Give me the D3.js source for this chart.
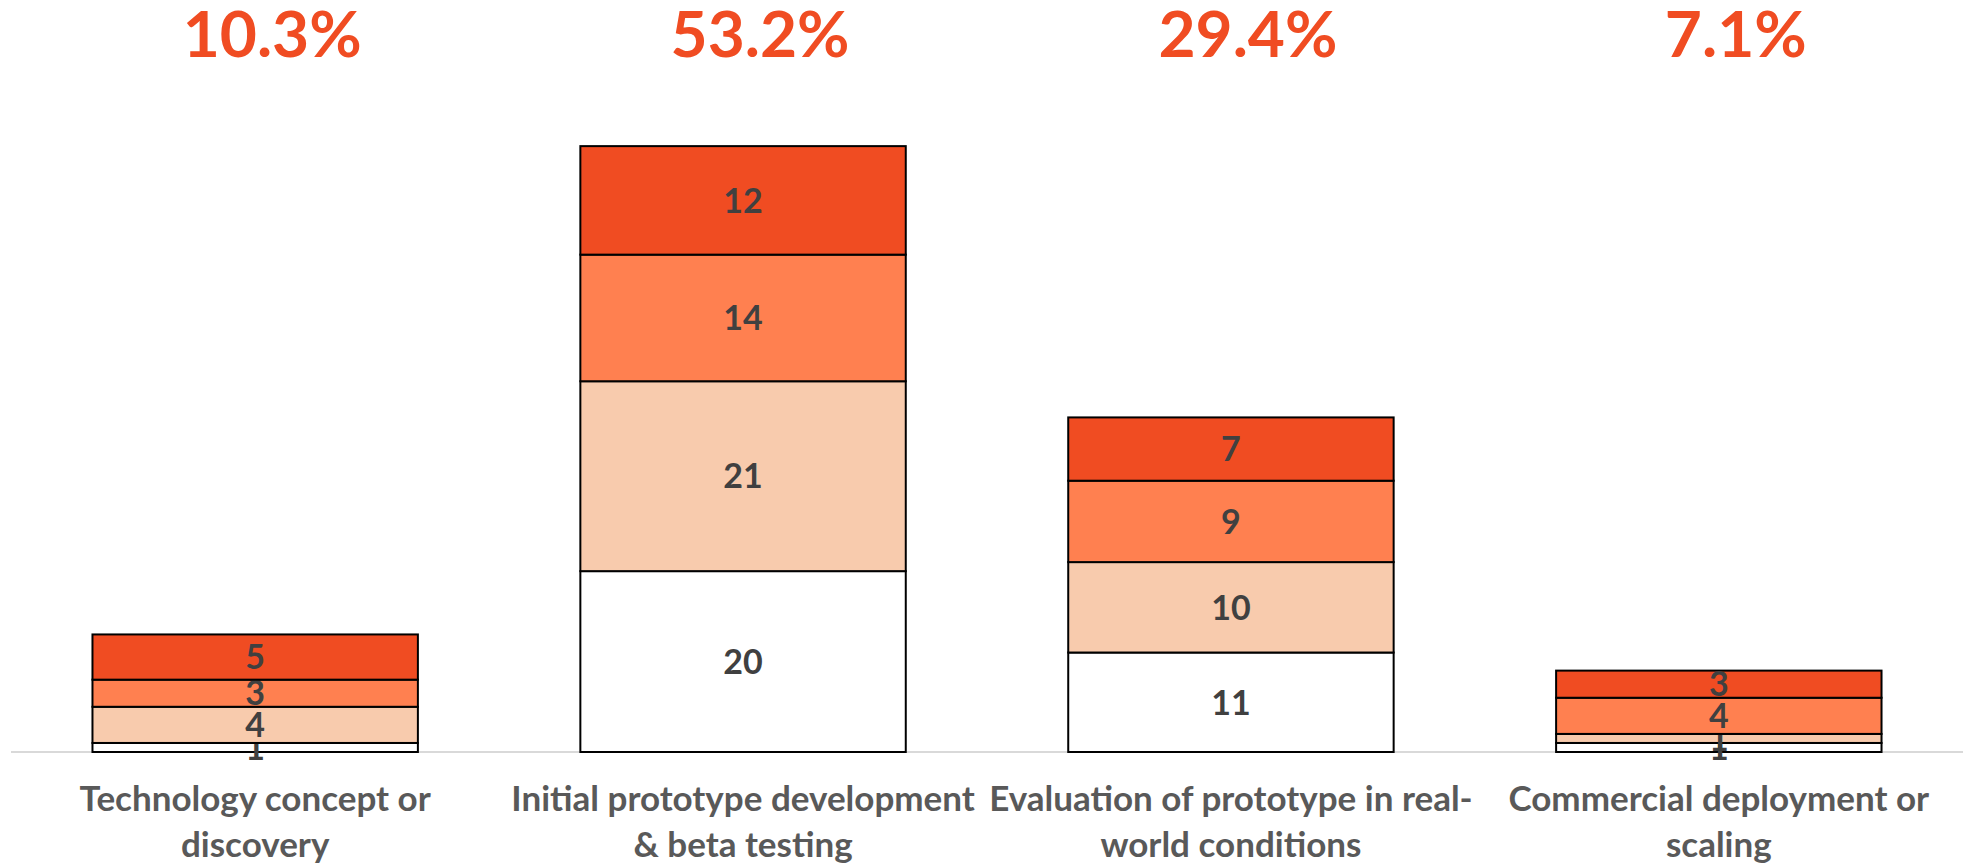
<!DOCTYPE html>
<html>
<head>
<meta charset="utf-8">
<script src="https://cdn.jsdelivr.net/npm/d3@7"></script>
<style>
  body { margin: 0; background: #fff; }
  svg { display: block; }
  text { font-family: Lato, "Open Sans", sans-serif; font-weight: bold; }
</style>
</head>
<body>
<svg id="chart" width="1967" height="866"></svg>
<script>
// stages of development, stacked counts per stage

var categories = [
  "Technology concept or discovery",
  "Initial prototype development & beta testing",
  "Evaluation of prototype in real-world conditions",
  "Commercial deployment or scaling"
]

// label lines as they wrap in the original
var catLines = [
  ["Technology concept or", "discovery"],
  ["Initial prototype development", "& beta testing"],
  ["Evaluation of prototype in real-", "world conditions"],
  ["Commercial deployment or", "scaling"]
]

// series bottom -> top
var seriesKeys = ["s1", "s2", "s3", "s4"]
var s1 = [1, 20, 11, 1]
var s2 = [4, 21, 10, 1]
var s3 = [3, 14, 9, 4]
var s4 = [5, 12, 7, 3]

var colors = ["#ffffff", "#f8cbad", "#ff8050", "#f04c22"]

var rows = categories.map(function(c, i){
  return {cat: c, s1: s1[i], s2: s2[i], s3: s3[i], s4: s4[i]};
});

var svg = d3.select("#chart");

var x = d3.scaleBand()
  .domain(categories)
  .range([11, 1963])
  .paddingInner(0.333)
  .paddingOuter(0.167);

var y = d3.scaleLinear()
  .domain([0, 70])
  .range([752, 119]);

var color = d3.scaleOrdinal().domain(seriesKeys).range(colors);

var stacked = d3.stack().keys(seriesKeys)(rows);

// baseline
svg.append("line")
  .attr("x1", x.range()[0]).attr("x2", x.range()[1])
  .attr("y1", y(0)).attr("y2", y(0))
  .attr("stroke", "#d9d9d9")
  .attr("stroke-width", 2);

var layer = svg.selectAll(".layer")
  .data(stacked)
  .enter().append("g")
  .attr("class", "layer")
  .attr("fill", function(d){ return color(d.key); });

layer.selectAll("rect")
  .data(function(d){ return d; })
  .enter().append("rect")
  .attr("x", function(d){ return x(d.data.cat); })
  .attr("y", function(d){ return y(d[1]); })
  .attr("width", x.bandwidth())
  .attr("height", function(d){ return y(d[0]) - y(d[1]); })
  .attr("stroke", "#000")
  .attr("stroke-width", 2);

// values inside segments
layer.selectAll(".amount")
  .data(function(d){ return d; })
  .enter().append("text")
  .attr("class", "amount")
  .attr("x", function(d){ return x(d.data.cat) + x.bandwidth() / 2; })
  .attr("y", function(d){ return (y(d[0]) + y(d[1])) / 2; })
  .attr("dy", "0.36em")
  .attr("text-anchor", "middle")
  .attr("fill", "#404040")
  .attr("font-size", 34)
  .text(function(d){ return d[1] - d[0]; });

// share of all responses above each bar
var totals = rows.map(function(r){ return d3.sum(seriesKeys, function(k){ return r[k]; }); });
var grand = d3.sum(totals);
var pct = d3.format(".1%");

svg.selectAll(".share")
  .data(categories)
  .enter().append("text")
  .attr("class", "share")
  .attr("x", function(d){ return x(d) + x.bandwidth() / 2 + 17; })
  .attr("y", 57)
  .attr("text-anchor", "middle")
  .attr("fill", "#f04c22")
  .attr("font-size", 64)
  .text(function(d, i){ return pct(totals[i] / grand); });

// category labels
var lab = svg.selectAll(".cat")
  .data(categories)
  .enter().append("text")
  .attr("class", "cat")
  .attr("x", function(d){ return x(d) + x.bandwidth() / 2; })
  .attr("y", 811)
  .attr("text-anchor", "middle")
  .attr("fill", "#595959")
  .attr("font-size", 35);

lab.selectAll("tspan")
  .data(function(d, i){ return catLines[i]; })
  .enter().append("tspan")
  .attr("x", function(){ var p = this.parentNode; return p.getAttribute("x"); })
  .attr("dy", function(d, i){ return i == 0 ? 0 : 46; })
  .text(function(d){ return d; });
</script>
</body>
</html>
